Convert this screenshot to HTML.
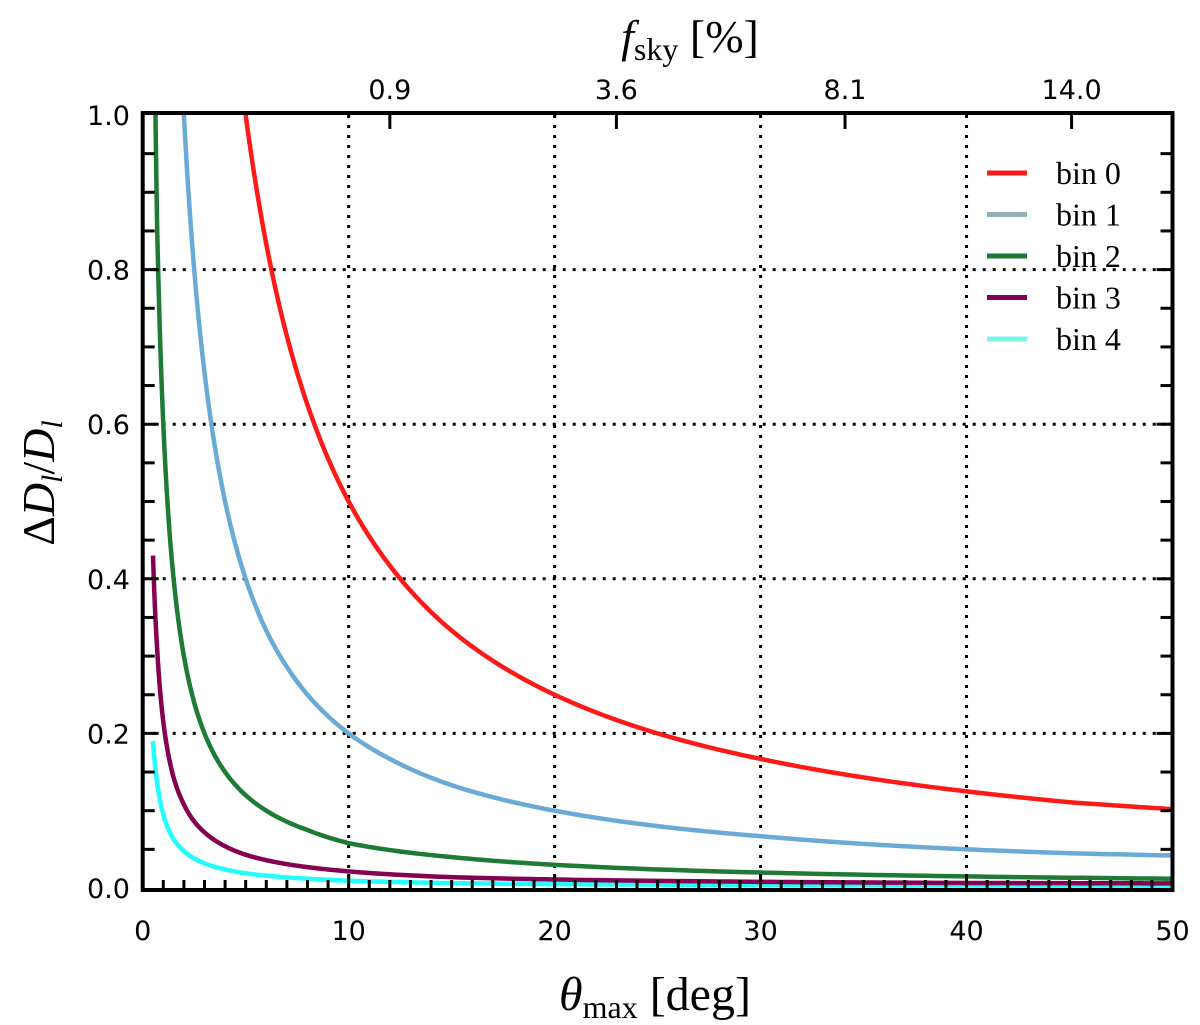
<!DOCTYPE html>
<html><head><meta charset="utf-8"><style>
html,body{margin:0;padding:0;background:#fff;}
svg{display:block;}
.tk{font-family:"DejaVu Sans","Liberation Sans",sans-serif;font-size:27px;fill:#000;}
.lg{font-family:"Liberation Serif",serif;font-size:32px;fill:#000;}
.ttl{font-family:"Liberation Serif",serif;fill:#000;}
</style></head><body>
<svg id="chart" width="1200" height="1025" viewBox="0 0 1200 1025" xmlns="http://www.w3.org/2000/svg">
<g id="grid"></g>
<g id="series"></g>
<g id="axes"></g>
<g id="legend"></g>
<text class="ttl" x="655" y="1010" text-anchor="middle" font-size="48"><tspan font-style="italic">θ</tspan><tspan font-size="32" dy="8">max</tspan><tspan dy="-8"> [deg]</tspan></text>
<text class="ttl" x="690" y="52" text-anchor="middle" font-size="46"><tspan font-style="italic">f</tspan><tspan font-size="32" dy="8">sky</tspan><tspan dy="-8"> [%]</tspan></text>
<text class="ttl" transform="translate(54,483) rotate(-90)" text-anchor="middle" font-size="46">Δ<tspan font-style="italic">D</tspan><tspan font-size="30" dy="8" font-style="italic">l</tspan><tspan dy="-8">/</tspan><tspan font-style="italic">D</tspan><tspan font-size="30" dy="8" font-style="italic">l</tspan></text>
</svg>
<script>
const xTicks=[0,10,20,30,40,50];
const yTicks=[0.0,0.2,0.4,0.6,0.8,1.0];
const yTickLabels=["0.0","0.2","0.4","0.6","0.8","1.0"];
const topTickTheta=[12,23,34.1,45.1];
const topTickLabels=["0.9","3.6","8.1","14.0"];
const seriesNames=["bin 0","bin 1","bin 2","bin 3","bin 4"];
const bin0Theta=[5,6,7,8,10,12,15,20,25,30,35,40,45,50];
const bin0Vals=[1.0,0.833,0.714,0.625,0.5,0.417,0.333,0.25,0.2,0.167,0.143,0.125,0.111,0.102];
const bin1Theta=[2,2.5,3,4,5,6,7,8,10,12,15,20,25,30,35,40,45,50];
const bin1Vals=[1.0,0.8,0.667,0.5,0.4,0.333,0.286,0.25,0.2,0.167,0.133,0.1,0.08,0.067,0.057,0.05,0.045,0.042];
const bin2Theta=[0.62,0.7,0.8,1,1.25,1.5,2,2.5,3,4,5,6,8,10,15,20,30,40,50];
const bin2Vals=[1.0,0.857,0.75,0.6,0.48,0.4,0.3,0.24,0.2,0.15,0.12,0.1,0.075,0.058,0.04,0.03,0.02,0.015,0.012];
const bin3Theta=[0.5,0.6,0.7,0.8,1,1.25,1.5,2,2.5,3,4,5,6,8,10,15,20,30,40,50];
const bin3Vals=[0.43,0.36,0.31,0.27,0.215,0.172,0.143,0.108,0.086,0.072,0.054,0.043,0.036,0.027,0.0215,0.014,0.011,0.008,0.0065,0.006];
const bin4Theta=[0.5,0.6,0.7,0.8,1,1.25,1.5,2,2.5,3,4,5,6,8,10,15,20,30,40,50];
const bin4Vals=[0.19,0.158,0.136,0.119,0.095,0.076,0.063,0.048,0.038,0.032,0.024,0.019,0.016,0.012,0.0095,0.0063,0.005,0.004,0.0035,0.003];
const colors=["#ff1a1a","#6aaad4","#1e7a35","#850050","#22ffff"];
const legendColors=["#ff1a1a","#8fb2bb","#1e7a35","#850050","#7ff5ea"];

const X0=142.7,X1=1172.5,Y0=888,Y1=115;
const xs=v=>X0+(v-0)/(50-0)*(X1-X0);
const ys=v=>Y0-(v-0)/(1-0)*(Y0-Y1);
const NS="http://www.w3.org/2000/svg";
function mk(tag,attrs,parent){const e=document.createElementNS(NS,tag);for(const k in attrs)e.setAttribute(k,attrs[k]);parent.appendChild(e);return e;}
const grid=document.getElementById('grid'),axes=document.getElementById('axes'),series=document.getElementById('series'),legend=document.getElementById('legend');
const dot={stroke:"#000","stroke-width":3,"stroke-dasharray":"3 7"};
[10,20,30,40].forEach(v=>{const l=mk('line',Object.assign({x1:xs(v),x2:xs(v),y1:Y1,y2:Y0},dot),grid);

});
[0.2,0.4,0.6,0.8].forEach(v=>{const l=mk('line',Object.assign({x1:X0,x2:X1,y1:ys(v),y2:ys(v)},dot),grid);

});

// power-law (log-log) interpolation between data points for smooth drawing
function pathFor(tx,vy){let d="M"+xs(tx[0])+","+ys(vy[0]);
for(let i=0;i<tx.length-1;i++){const a=tx[i],b=tx[i+1],ya=vy[i],yb=vy[i+1];
const s=Math.log(yb/ya)/Math.log(b/a);const n=20;
for(let k=1;k<=n;k++){const t=a+(b-a)*k/n;const y=ya*Math.pow(t/a,s);d+=" L"+xs(t).toFixed(2)+","+ys(y).toFixed(2);}}
return d;}
const allT=[bin0Theta,bin1Theta,bin2Theta,bin3Theta,bin4Theta],allV=[bin0Vals,bin1Vals,bin2Vals,bin3Vals,bin4Vals];
for(let i=4;i>=0;i--){const p=mk('path',{d:pathFor(allT[i],allV[i]),fill:"none",stroke:colors[i],"stroke-width":4.5,"stroke-linejoin":"round"},series);

}

const fr=mk('rect',{x:X0,y:Y1-2,width:X1-X0,height:Y0-Y1+4,fill:"none",stroke:"#000","stroke-width":4},axes);


const YB=Y0+2,YT=Y1-2;
for(let v=0;v<=50;v+=1){const major=v%10===0;if(v===0||v===50)continue;
const t=mk('line',{x1:xs(v),x2:xs(v),y1:YB,y2:YB-(major?16:10),stroke:"#000","stroke-width":3},axes);

}
for(let k=1;k<20;k++){const v=k*0.05,major=k%4===0;
const t=mk('line',{x1:X0,x2:X0+(major?16:12),y1:ys(v),y2:ys(v),stroke:"#000","stroke-width":3},axes);


const t2=mk('line',{x1:X1,x2:X1-(major?16:12),y1:ys(v),y2:ys(v),stroke:"#000","stroke-width":3},axes);

}
xTicks.forEach(v=>{const t=mk('text',{x:xs(v),y:940,"text-anchor":"middle",class:"tk"},axes);t.textContent=String(v);

});
yTicks.forEach((v,i)=>{const t=mk('text',{x:130,y:ys(v)+10,"text-anchor":"end",class:"tk"},axes);t.textContent=yTickLabels[i];

});
topTickTheta.forEach((v,i)=>{const l=mk('line',{x1:xs(v),x2:xs(v),y1:YT,y2:YT+16,stroke:"#000","stroke-width":3},axes);


const t=mk('text',{x:xs(v),y:99,"text-anchor":"middle",class:"tk"},axes);t.textContent=topTickLabels[i];

});

seriesNames.forEach((n,i)=>{const y=173+i*41.5;
const g=mk('g',{},legend);


mk('rect',{x:987,y:y-2.5,width:40,height:5,fill:legendColors[i]},g);
const t=mk('text',{x:1056,y:y+11,class:"lg"},g);t.textContent=n;});
</script>
</body></html>
